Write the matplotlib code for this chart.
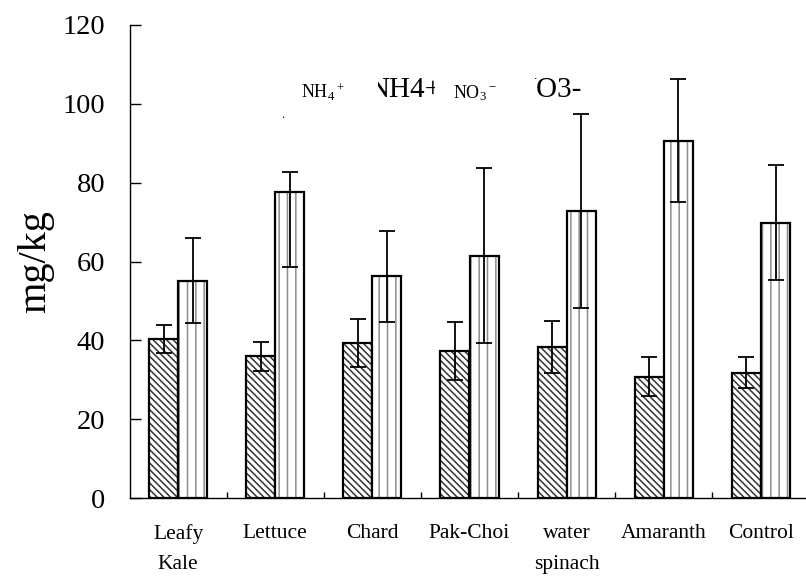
import numpy as np
import matplotlib
matplotlib.use("Agg")
import matplotlib.pyplot as plt
from matplotlib.transforms import Bbox

plt.rcParams['font.family'] = ['Liberation Serif', 'DejaVu Serif']
plt.rcParams['mathtext.fontset'] = 'custom'
plt.rcParams['mathtext.rm'] = 'Liberation Serif'
plt.rcParams['mathtext.it'] = 'Liberation Serif'
plt.rcParams['hatch.linewidth'] = 1.1

# data
categories = ["Leafy\nKale", "Lettuce", "Chard", "Pak-Choi", "water\nspinach", "Amaranth", "Control"]
nh4 = [40.3, 35.9, 39.4, 37.3, 38.3, 30.8, 31.8]
nh4_err = [3.5, 3.7, 6.1, 7.4, 6.6, 4.9, 4.0]
no3 = [55.1, 77.6, 56.2, 61.4, 72.7, 90.5, 69.7]
no3_err_lo = [10.8, 19.1, 11.6, 22.2, 24.6, 15.4, 14.3]
no3_err_hi = [10.8, 5.1, 11.6, 22.2, 24.6, 15.7, 14.8]

W, H = 806, 577
fig = plt.figure(figsize=(W / 100, H / 100), dpi=100)
ax = fig.add_axes([129.5 / W, 79 / H, 680 / W, 473 / H])

x = np.arange(len(categories))
bw = 0.3

# NH4+ bars : dense diagonal hatch
ax.bar(x - bw / 2, nh4, bw, color='white', edgecolor='#333333', hatch='\\\\\\\\\\', linewidth=0)
ax.bar(x - bw / 2, nh4, bw, fill=False, edgecolor='black', linewidth=1.6)
# NO3- bars : grey vertical stripes
ax.bar(x + bw / 2, no3, bw, color='white', edgecolor='#8c8c8c', hatch='||', linewidth=0)
ax.bar(x + bw / 2, no3, bw, fill=False, edgecolor='black', linewidth=1.6)

ax.errorbar(x - bw / 2, nh4, yerr=nh4_err, fmt='none', ecolor='black',
            elinewidth=1.3, capsize=5.5, capthick=1.3)
ax.errorbar(x + bw / 2, no3, yerr=[no3_err_lo, no3_err_hi], fmt='none', ecolor='black',
            elinewidth=1.3, capsize=5.5, capthick=1.3)

ax.set_xlim(-0.5, 6.5)
ax.set_ylim(0, 120)
ax.set_yticks(np.arange(0, 121, 20))
ax.tick_params(axis='y', direction='in', length=8, width=1, labelsize=20.5, pad=17.5)
ax.set_xticks(x)
ax.set_xticklabels(categories, fontsize=15.5, linespacing=1.8, va='top')
ax.tick_params(axis='x', which='major', length=0, pad=19)
ax.set_xticks(np.arange(0.5, 6.5, 1), minor=True)
ax.tick_params(axis='x', which='minor', direction='in', length=4, width=1)

ax.spines['top'].set_visible(False)
ax.spines['right'].set_visible(False)
ax.spines['left'].set_linewidth(1)
ax.spines['bottom'].set_linewidth(1)

ax.set_ylabel('mg/kg', fontsize=29, ha='center', va='center')
ax.yaxis.set_label_coords((36 - 129.5) / 680, 0.5)

# garbled legend text as it appears on the figure
fig.text(301 / W, 1 - 98 / H, r'NH$_4$$^+$', fontsize=13, ha='left', va='baseline')
t1 = fig.text(368 / W, 1 - 97 / H, 'NH4+', fontsize=21, ha='left', va='baseline')
t1.set_clip_box(Bbox([[378, 0], [435, H]]))
t1.set_clip_on(True)
fig.text(453 / W, 1 - 98 / H, r'NO$_3$$^-$', fontsize=13, ha='left', va='baseline')
t2 = fig.text(515 / W, 1 - 97 / H, 'NO3-', fontsize=21, ha='left', va='baseline')
t2.set_clip_box(Bbox([[535, 0], [590, H]]))
t2.set_clip_on(True)
fig.text(283 / W, 1 - 118 / H, '.', fontsize=9, ha='center', va='baseline')

fig.savefig('out.png', dpi=100)
